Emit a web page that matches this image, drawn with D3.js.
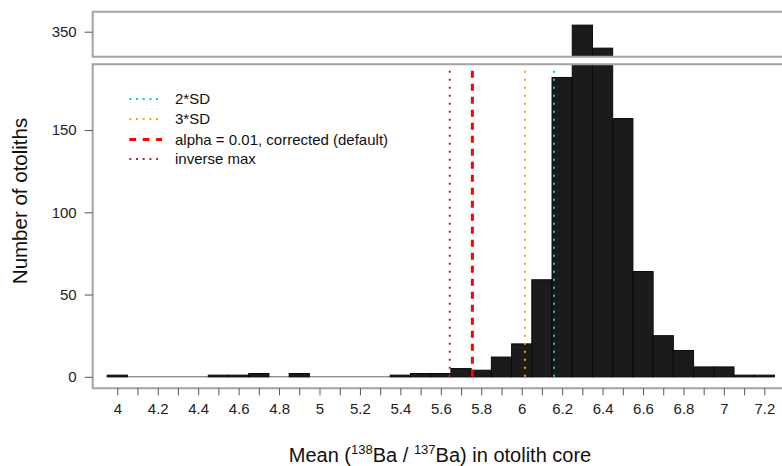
<!DOCTYPE html>
<html>
<head>
<meta charset="utf-8">
<script src="https://cdn.jsdelivr.net/npm/d3@7"></script>
<style>
  html, body { margin: 0; padding: 0; background: #fff; }
  svg { display: block; font-family: "Liberation Sans", Arial, sans-serif; }
</style>
</head>
<body>
<svg id="chart" width="782" height="466"></svg>
<script>
// ---- data ----
const binCenters = [4.0,4.1,4.2,4.3,4.4,4.5,4.6,4.7,4.8,4.9,5.0,5.1,5.2,5.3,5.4,5.5,5.6,5.7,5.8,5.9,6.0,6.1,6.2,6.3,6.4,6.5,6.6,6.7,6.8,6.9,7.0,7.1,7.2];
const counts     = [1,  0,  0,  0,  0,  1,  1,  2,  0,  2,  0,  0,  0,  0,  1,  2,  2,  5,  4,  12, 20, 59, 182,354,340,157,64, 25, 16, 6,  6,  1,  1];
const binWidth = 0.1;
const xTickValues = d3.range(33).map(i => +(4 + i * 0.1).toFixed(1));
const xTickLabels = ["4","4.2","4.4","4.6","4.8","5","5.2","5.4","5.6","5.8","6","6.2","6.4","6.6","6.8","7","7.2"];
const yTicksLower = [0, 50, 100, 150];
const yTicksUpper = [350];
const thresholdNames  = ["2*SD", "3*SD", "alpha = 0.01, corrected (default)", "inverse max"];
const thresholdValues = [6.16, 6.016, 5.756, 5.644];
const thresholdColors = ["#00CED1", "#FFA500", "#FF0000", "#A52A2A"];
const thresholdDash   = ["2,6", "2,6", "7,6", "2,6"];
const thresholdWidth  = [2, 2, 3, 2];
const legendDash      = ["2,4.7", "2,4.7", "6.7,6.7", "2,4.7"];

// ---- layout ----
const svg = d3.select("#chart");
const left = 92.7, right = 800;
const lowTop = 64.3, lowBot = 388.3;
const upTop = 11.7, upBot = 56.7;

const x = d3.scaleLinear().domain([4, 7.2]).range([117.3, 117.3 + 3.2 * 202.2]);
const yLow = d3.scaleLinear().domain([-7, 190]).range([lowBot, lowTop]);
const pxPerUnit = (lowBot - lowTop) / 197;
const yUp = d3.scaleLinear()
  .domain([350 - (upBot - 31.7) / pxPerUnit, 350 + (31.7 - upTop) / pxPerUnit])
  .range([upBot, upTop]);

const defs = svg.append("defs");
defs.append("clipPath").attr("id", "clipLow").append("rect")
  .attr("x", left).attr("y", lowTop).attr("width", right - left).attr("height", lowBot - lowTop);
defs.append("clipPath").attr("id", "clipUp").append("rect")
  .attr("x", left).attr("y", upTop).attr("width", right - left).attr("height", upBot - upTop);

const data = binCenters.map((c, i) => ({ c, v: counts[i] }));
const barFill = "#1b1b1b", barStroke = "#0a0a0a";

// ---- lower panel ----
const gLow = svg.append("g").attr("clip-path", "url(#clipLow)");
gLow.append("line")
  .attr("x1", x(binCenters[0] - binWidth / 2)).attr("x2", x(binCenters[binCenters.length - 1] + binWidth / 2))
  .attr("y1", yLow(0)).attr("y2", yLow(0))
  .attr("stroke", "#666").attr("stroke-width", 1);
gLow.selectAll("rect.bar").data(data.filter(d => d.v > 0)).join("rect")
  .attr("class", "bar")
  .attr("x", d => x(d.c - binWidth / 2))
  .attr("width", d => x(d.c + binWidth / 2) - x(d.c - binWidth / 2))
  .attr("y", d => yLow(d.v))
  .attr("height", d => yLow(0) - yLow(d.v))
  .attr("fill", barFill).attr("stroke", barStroke).attr("stroke-width", 1);

// threshold lines
gLow.selectAll("line.thr").data(thresholdValues).join("line")
  .attr("class", "thr")
  .attr("x1", d => x(d)).attr("x2", d => x(d))
  .attr("y1", yLow(0)).attr("y2", yLow(188))
  .attr("stroke", (d, i) => thresholdColors[i])
  .attr("stroke-width", (d, i) => thresholdWidth[i])
  .attr("stroke-dasharray", (d, i) => thresholdDash[i]);

// ---- upper panel ----
const gUp = svg.append("g").attr("clip-path", "url(#clipUp)");
gUp.selectAll("rect.bar").data(data.filter(d => d.v > yUp.domain()[0])).join("rect")
  .attr("class", "bar")
  .attr("x", d => x(d.c - binWidth / 2))
  .attr("width", d => x(d.c + binWidth / 2) - x(d.c - binWidth / 2))
  .attr("y", d => yUp(d.v))
  .attr("height", d => upBot + 5 - yUp(d.v))
  .attr("fill", barFill).attr("stroke", barStroke).attr("stroke-width", 1);

// ---- panel borders (right edge falls outside the picture) ----
const borderColor = "#a3a3a3";
function box(top, bot) {
  const g = svg.append("g").attr("stroke", borderColor).attr("stroke-width", 2).attr("fill", "none");
  g.append("path").attr("d", `M${right},${top} H${left} V${bot} H${right}`);
}
box(upTop, upBot);
box(lowTop, lowBot);

// ---- axes ----
const tickColor = "#555", labelColor = "#222";
const xAxis = d3.axisBottom(x).tickValues(xTickValues).tickSize(7).tickPadding(8)
  .tickFormat(d => { const s = d3.format("~g")(d); return xTickLabels.includes(s) ? s : ""; });
const gx = svg.append("g").attr("transform", `translate(0,${lowBot})`).call(xAxis);
gx.select(".domain").remove();
gx.selectAll(".tick line").attr("stroke", tickColor);
gx.selectAll(".tick text").attr("fill", labelColor).attr("font-size", 15).attr("font-family", "Liberation Sans, Arial, sans-serif");

function yAx(scale, ticks) {
  const g = svg.append("g").attr("transform", `translate(${left},0)`)
    .call(d3.axisLeft(scale).tickValues(ticks).tickSize(8).tickPadding(8).tickFormat(d3.format("d")));
  g.select(".domain").remove();
  g.selectAll(".tick line").attr("stroke", tickColor);
  g.selectAll(".tick text").attr("fill", labelColor).attr("font-size", 15).attr("font-family", "Liberation Sans, Arial, sans-serif");
}
yAx(yLow, yTicksLower);
yAx(yUp, yTicksUpper);

// ---- axis titles ----
const xt = svg.append("text").attr("x", 440).attr("y", 461.5).attr("text-anchor", "middle")
  .attr("font-size", 20).attr("fill", "#111");
xt.append("tspan").text("Mean (");
xt.append("tspan").attr("font-size", 13).attr("dy", -8).text("138");
xt.append("tspan").attr("dy", 8).text("Ba / ");
xt.append("tspan").attr("font-size", 13).attr("dy", -8).text("137");
xt.append("tspan").attr("dy", 8).text("Ba) in otolith core");

svg.append("text").attr("transform", "translate(26.5,201) rotate(-90)")
  .attr("text-anchor", "middle").attr("font-size", 20.5).attr("fill", "#111")
  .text("Number of otoliths");

// ---- legend ----
const legRows = [99, 119, 139.5, 159];
const leg = svg.append("g");
thresholdNames.forEach((name, i) => {
  leg.append("line").attr("x1", 129.3).attr("x2", 162).attr("y1", legRows[i]).attr("y2", legRows[i])
    .attr("stroke", thresholdColors[i]).attr("stroke-width", thresholdWidth[i])
    .attr("stroke-dasharray", legendDash[i]);
  leg.append("text").attr("x", 175).attr("y", legRows[i] + 5.3)
    .attr("font-size", 15).attr("fill", "#111").text(name);
});
</script>
</body>
</html>
